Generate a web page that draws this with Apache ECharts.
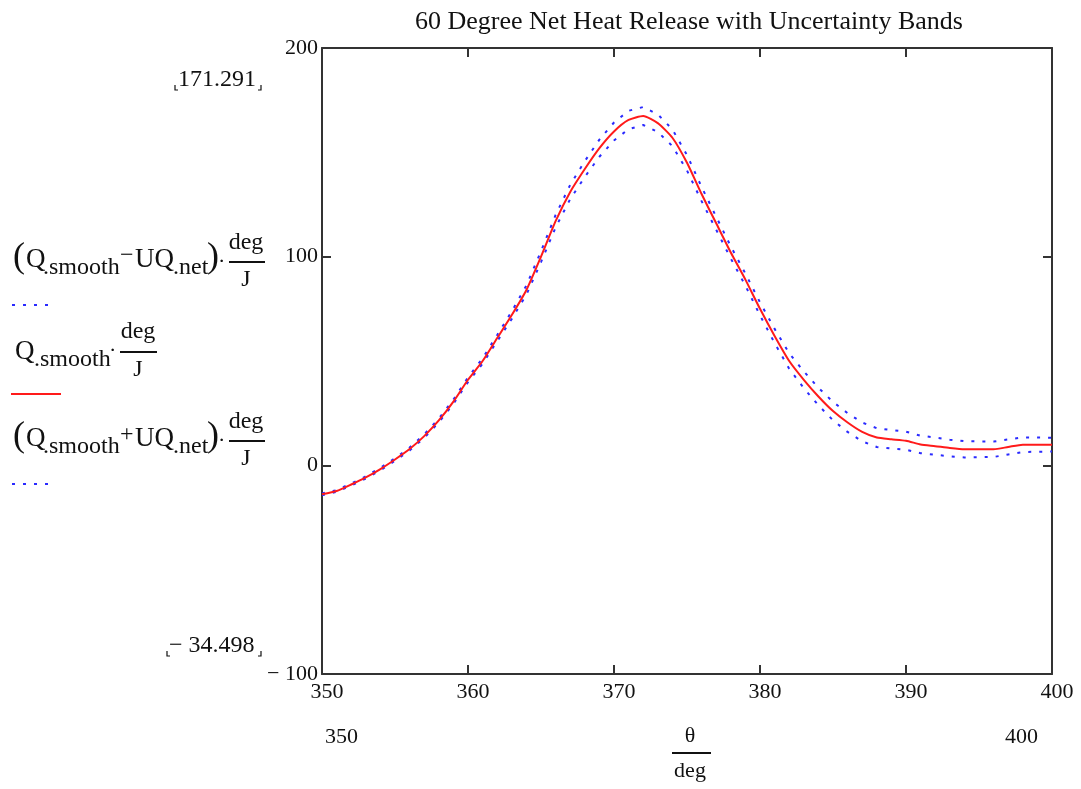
<!DOCTYPE html>
<html>
<head>
<meta charset="utf-8">
<title>60 Degree Net Heat Release with Uncertainty Bands</title>
<script src="https://cdn.jsdelivr.net/npm/echarts@6/dist/echarts.min.js"></script>
<style>
  html, body { margin: 0; padding: 0; background: #fff; }
  #chart { width: 1081px; height: 789px; }
</style>
</head>
<body>
<div id="chart"></div>
<script>
// crank angle, deg
const theta = [350, 351, 352, 353, 354, 355, 356, 357, 358, 359,
  360, 361, 362, 363, 364, 365, 366, 367, 368, 369,
  370, 371, 372, 373, 374, 375, 376, 377, 378, 379,
  380, 381, 382, 383, 384, 385, 386, 387, 388, 389,
  390, 391, 392, 393, 394, 395, 396, 397, 398, 399, 400]

// Q.smooth * deg/J
const qSmooth = [-13.9, -12.3, -9.2, -5.8, -1.8, 2.8, 7.8, 14, 21.5, 30.5,
  41, 50, 61, 72, 84, 100, 117, 131, 142, 152,
  160, 165.5, 167.4, 164, 157, 145, 130, 116, 102, 89,
  75, 62, 50, 41, 33, 26, 20.5, 16, 13.3, 12.5,
  11.8, 10, 9.2, 8.3, 7.7, 7.7, 7.7, 8.8, 9.9, 9.9, 9.9]

// UQ.net * deg/J
const uqNet = [0.4, 0.4, 0.5, 0.5, 0.6, 0.6, 0.7, 0.8, 0.9, 1.0,
  1.1, 1.3, 1.5, 1.8, 2.2, 2.6, 3.0, 3.4, 3.8, 4.1,
  4.3, 4.4, 4.3, 4.2, 4.0, 3.7, 3.4, 3.1, 2.9, 2.9,
  3.1, 3.4, 3.7, 4.0, 4.2, 4.4, 4.5, 4.5, 4.5, 4.4,
  4.3, 4.2, 4.1, 4.0, 3.9, 3.8, 3.7, 3.6, 3.5, 3.4, 3.3]

const xTicks = [350, 360, 370, 380, 390, 400]
const yTicks = [-100, 0, 100, 200]

const FONT = '"Liberation Serif", "Times New Roman", serif'
const INK = '#111'
const BLUE = '#2a2aff'
const RED = '#ff1a1a'

const mid = theta.map((t, i) => [t, qSmooth[i]])
const lower = theta.map((t, i) => [t, +(qSmooth[i] - uqNet[i]).toFixed(2)])
const upper = theta.map((t, i) => [t, +(qSmooth[i] + uqNet[i]).toFixed(2)])

function txt(text, x, y, size, align) {
  return {
    type: 'text', x: x, y: y, silent: true,
    style: { text: text, font: size + 'px ' + FONT, fill: INK, align: align || 'left', verticalAlign: 'middle' }
  }
}
function seg(x1, y1, x2, y2, color, dash) {
  return {
    type: 'line', silent: true,
    shape: { x1: x1, y1: y1, x2: x2, y2: y2 },
    style: { stroke: color || INK, lineWidth: 2, lineDash: dash || null }
  }
}
function corner(points) {
  return { type: 'polyline', silent: true, shape: { points: points }, style: { stroke: INK, lineWidth: 1.2, fill: null } }
}

// (Q.smooth -/+ UQ.net) . deg/J legend row
function bandLabel(dy, sign) {
  return [
    txt('(', 13, 258 + dy, 36),
    txt('Q', 26, 260 + dy, 27),
    txt('.smooth', 43, 268 + dy, 24),
    txt(sign, 120, 256 + dy, 24),
    txt('UQ', 135, 260 + dy, 27),
    txt('.net', 173, 268 + dy, 24),
    txt(')', 207, 258 + dy, 36),
    txt('·', 218, 262 + dy, 22),
    txt('deg', 246, 243 + dy, 24, 'center'),
    seg(229, 262 + dy, 265, 262 + dy),
    txt('J', 246, 280 + dy, 24, 'center'),
    seg(12, 305 + dy, 54, 305 + dy, BLUE, [3, 8])
  ]
}

const graphics = [].concat(
  bandLabel(0, '\u2212'),
  [
    txt('Q', 15, 352, 27),
    txt('.smooth', 34, 360, 24),
    txt('·', 109, 351, 22),
    txt('deg', 138, 332, 24, 'center'),
    seg(120, 352, 157, 352),
    txt('J', 138, 370, 24, 'center'),
    seg(11, 394, 61, 394, RED)
  ],
  bandLabel(179, '+'),
  [
    // max / min of the plotted data
    txt('171.291', 178, 80, 24),
    corner([[175, 85], [175, 90], [178, 90]]),
    corner([[258, 90], [261, 90], [261, 85]]),
    txt('\u2212 34.498', 169, 646, 24),
    corner([[167, 651], [167, 656], [170, 656]]),
    corner([[258, 656], [261, 656], [261, 651]]),
    // x range and x label
    txt('350', 325, 737, 22),
    txt('400', 1005, 737, 22),
    txt('θ', 690, 736, 22, 'center'),
    seg(672, 753, 711, 753),
    txt('deg', 690, 771, 22, 'center')
  ]
)

const chart = echarts.init(document.getElementById('chart'))

const tickStyle = { show: true, inside: true, length: 9, lineStyle: { color: '#333', width: 2 } }
const lineStyle = { show: true, onZero: false, lineStyle: { color: '#333', width: 2 } }

chart.setOption({
  animation: false,
  backgroundColor: '#fff',
  textStyle: { fontFamily: FONT, color: INK },
  title: {
    text: '60 Degree Net Heat Release with Uncertainty Bands',
    left: 684, top: 4, textAlign: 'center',
    textStyle: { fontFamily: FONT, fontSize: 26, fontWeight: 'normal', color: INK }
  },
  grid: { left: 322, right: 29, top: 48, bottom: 115, containLabel: false },
  xAxis: [
    {
      type: 'value', min: xTicks[0], max: xTicks[xTicks.length - 1], interval: 10,
      axisLine: lineStyle, axisTick: tickStyle, splitLine: { show: false },
      axisLabel: { fontFamily: FONT, fontSize: 22, color: INK, margin: 7, padding: [0, 0, 0, 10] }
    },
    {
      type: 'value', position: 'top', min: xTicks[0], max: xTicks[xTicks.length - 1], interval: 10,
      axisLine: lineStyle, axisTick: tickStyle, axisLabel: { show: false }, splitLine: { show: false }
    }
  ],
  yAxis: [
    {
      type: 'value', min: yTicks[0], max: yTicks[yTicks.length - 1], interval: 100,
      axisLine: lineStyle, axisTick: tickStyle, splitLine: { show: false },
      axisLabel: {
        fontFamily: FONT, fontSize: 22, color: INK, margin: 4,
        formatter: v => v < 0 ? '\u2212 ' + (-v) : String(v)
      }
    },
    {
      type: 'value', position: 'right', min: yTicks[0], max: yTicks[yTicks.length - 1], interval: 100,
      axisLine: lineStyle, axisTick: tickStyle, axisLabel: { show: false }, splitLine: { show: false }
    }
  ],
  series: [
    {
      name: '(Q.smooth−UQ.net)·deg/J', type: 'line', data: lower, showSymbol: false,
      lineStyle: { color: BLUE, width: 2, type: [3, 8] }, z: 3
    },
    {
      name: 'Q.smooth·deg/J', type: 'line', data: mid, showSymbol: false, smooth: 0.2,
      lineStyle: { color: RED, width: 2 }, z: 4
    },
    {
      name: '(Q.smooth+UQ.net)·deg/J', type: 'line', data: upper, showSymbol: false,
      lineStyle: { color: BLUE, width: 2, type: [3, 8] }, z: 3
    }
  ],
  graphic: graphics
})
</script>
</body>
</html>
